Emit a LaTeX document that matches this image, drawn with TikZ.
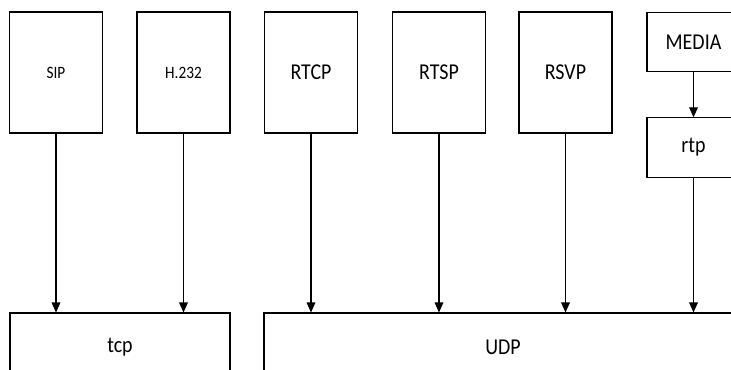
\documentclass[tikz,border=0pt]{standalone}
\usepackage{fontspec}
\setmainfont[FakeStretch=0.88]{Carlito}
\usetikzlibrary{math,arrows.meta}

\tikzset{
  proto/.style={draw, line width=0.8pt, minimum width=69.75pt, minimum height=90.75pt, inner sep=0pt, font=\fontsize{13}{15}\selectfont},
  protobig/.style={proto, font=\fontsize{17}{20}\selectfont},
  small/.style={protobig, minimum height=44.5pt},
  layer/.style={draw, line width=0.8pt, minimum height=51pt, inner sep=0pt, font=\fontsize{17}{20}\selectfont},
  flow/.style={line width=0.8pt, -{Triangle[length=7.5pt,width=6.5pt]}}
}

\begin{document}
\begin{tikzpicture}[x=0.75pt, y=-0.75pt]
            \tikzmath{\topy = 72.5; \boty = 347;}
            \clip (0,0) rectangle (731,369);
            \useasboundingbox (0,0) rectangle (731,369);

            % upper row
            \node[proto] (sip) at (56, \topy) {SIP};
            \node[proto] (h232) at (183.5, \topy) {H.232};
            \node[protobig] (rtcp) at (311, \topy) {RTCP};
            \node[protobig] (rtsp) at (439, \topy) {RTSP};
            \node[protobig] (rsvp) at (565.5, \topy) {RSVP};
            \node[small] (media) at (693.5, 42) {MEDIA};
            \node[small] (rtp) at (693.5, 147.5) {rtp};

            % transport layer
            \node[layer, minimum width=165pt] (tcp) at (120, \boty) {tcp};
            \node[layer, minimum width=358.5pt] (udp) at (503, \boty) {UDP};

            \draw[flow] (media)--(rtp);
            \draw[flow] (sip.south)--(sip.south |- tcp.north);
            \draw[flow] (h232.south)--(h232.south |- tcp.north);
            \foreach \p in {rtcp, rtsp, rsvp, rtp}
                \draw[flow] (\p.south)--(\p.south |- udp.north);
        \end{tikzpicture}
\end{document}
